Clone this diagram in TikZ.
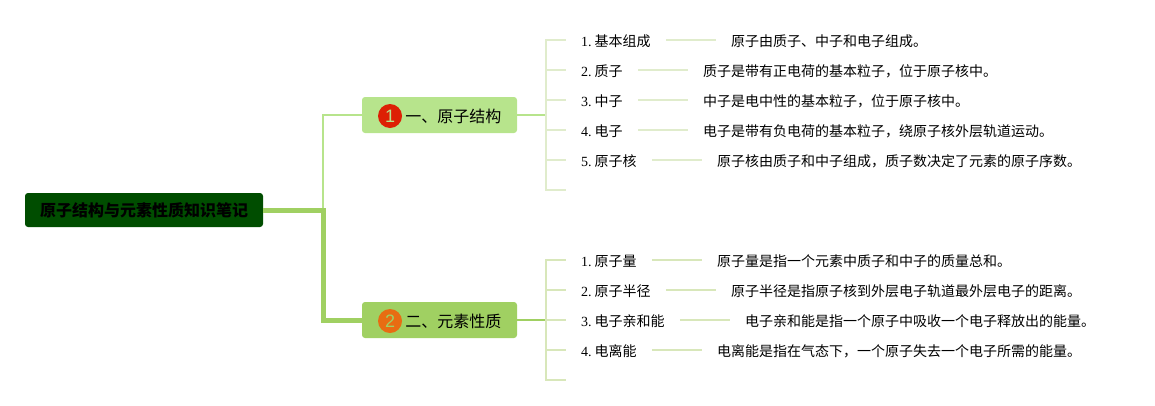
\documentclass[tikz,border=0pt]{standalone}
\usepackage{fontspec}
\setmainfont{Noto Sans CJK SC}
\newfontfamily\numfont{Liberation Serif}
\newfontfamily\badgefont{Liberation Sans}
\usetikzlibrary{positioning}
\definecolor{rootgreen}{HTML}{004D00}
\definecolor{topicone}{HTML}{B7E48C}
\definecolor{topictwo}{HTML}{A0D062}
\definecolor{stubone}{HTML}{E0ECCC}
\definecolor{stubtwo}{HTML}{D8E7BA}
\definecolor{badgered}{HTML}{DD2005}
\definecolor{badgeorange}{HTML}{E86C12}
\newcommand{\leaftext}[2]{{\numfont #1.}\hspace{3pt}#2}

\begin{document}
\begin{tikzpicture}[
        x=1pt,y=-1pt,
        rootbox/.style={fill=rootgreen,rounded corners=3pt,minimum width=238pt,minimum height=34pt,inner sep=0pt,font=\fontsize{16}{18}\selectfont\bfseries},
        topicbox/.style={rounded corners=3pt,minimum width=155pt,minimum height=36pt,inner sep=0pt},
        topictext/.style={inner sep=0pt,font=\fontsize{16}{18}\selectfont},
        badge/.style={circle,minimum size=24pt,inner sep=0pt,font=\fontsize{18}{20}\selectfont\badgefont},
        leaf/.style={inner sep=0pt,anchor=west,text height=12pt,text depth=0pt,font=\fontsize{14}{16}\selectfont},
        note/.style={leaf,right=80pt of #1},
        leafline/.style={draw=stubone,line width=2pt,shorten <=15pt,shorten >=15pt}]

    \useasboundingbox (0,0) rectangle (1155,405);

    \node[rootbox] (root) at (144,210) {原子结构与元素性质知识笔记};
    \node[topicbox,fill=topicone] (topicA) at (439.5,115) {};
    \node[topicbox,fill=topictwo] (topicB) at (439.5,320) {};
    \node[badge,fill=badgered,text=topicone] (badgeA) at (390,116) {1};
    \node[badge,fill=badgeorange,text=topictwo] (badgeB) at (390,321) {2};
    \node[topictext,right=3pt of badgeA] (titleA) {一、原子结构};
    \node[topictext,right=3pt of badgeB] (titleB) {二、元素性质};

    % first branch
    \node[leaf] (a1) at (581,40) {\leaftext{1}{基本组成}};
    \node[leaf] (a2) at (581,70) {\leaftext{2}{质子}};
    \node[leaf] (a3) at (581,100) {\leaftext{3}{中子}};
    \node[leaf] (a4) at (581,130) {\leaftext{4}{电子}};
    \node[leaf] (a5) at (581,160) {\leaftext{5}{原子核}};
    \node[note=a1] (na1) {原子由质子、中子和电子组成。};
    \node[note=a2] (na2) {质子是带有正电荷的基本粒子，位于原子核中。};
    \node[note=a3] (na3) {中子是电中性的基本粒子，位于原子核中。};
    \node[note=a4] (na4) {电子是带有负电荷的基本粒子，绕原子核外层轨道运动。};
    \node[note=a5] (na5) {原子核由质子和中子组成，质子数决定了元素的原子序数。};

    % second branch
    \node[leaf] (b1) at (581,260) {\leaftext{1}{原子量}};
    \node[leaf] (b2) at (581,290) {\leaftext{2}{原子半径}};
    \node[leaf] (b3) at (581,320) {\leaftext{3}{电子亲和能}};
    \node[leaf] (b4) at (581,350) {\leaftext{4}{电离能}};
    \node[note=b1] (nb1) {原子量是指一个元素中质子和中子的质量总和。};
    \node[note=b2] (nb2) {原子半径是指原子核到外层电子轨道最外层电子的距离。};
    \node[note=b3] (nb3) {电子亲和能是指一个原子中吸收一个电子释放出的能量。};
    \node[note=b4] (nb4) {电离能是指在气态下，一个原子失去一个电子所需的能量。};

    \coordinate (fork) at (323,210);
    \coordinate (spineA) at (546,115);
    \coordinate (spineB) at (546,320);
    \coordinate (endA) at (566,190);
    \coordinate (endB) at (566,380);

    \draw[topicone,line width=2pt] (root.east) -- (fork) |- (topicA.west);
    \draw[topictwo,line width=5pt] (root.east) -- (fork) |- (topicB.west);
    \draw[topicone,line width=2pt] (topicA.east) -- (spineA);
    \draw[topictwo,line width=2pt] (topicB.east) -- (spineB);

    \draw[stubone,line width=2pt] (spineA) |- ([xshift=-15pt]a1.west);
    \draw[stubone,line width=2pt] (spineA) |- ([xshift=-15pt]a2.west);
    \draw[stubone,line width=2pt] (spineA) |- ([xshift=-15pt]a3.west);
    \draw[stubone,line width=2pt] (spineA) |- ([xshift=-15pt]a4.west);
    \draw[stubone,line width=2pt] (spineA) |- ([xshift=-15pt]a5.west);
    \draw[stubone,line width=2pt] (spineA) |- (endA);

    \draw[stubtwo,line width=2pt] (spineB) |- ([xshift=-15pt]b1.west);
    \draw[stubtwo,line width=2pt] (spineB) |- ([xshift=-15pt]b2.west);
    \draw[stubtwo,line width=2pt] (spineB) -- ([xshift=-15pt]b3.west);
    \draw[stubtwo,line width=2pt] (spineB) |- ([xshift=-15pt]b4.west);
    \draw[stubtwo,line width=2pt] (spineB) |- (endB);

    \draw[leafline] (a1) -- (na1);
    \draw[leafline] (a2) -- (na2);
    \draw[leafline] (a3) -- (na3);
    \draw[leafline] (a4) -- (na4);
    \draw[leafline] (a5) -- (na5);
    \draw[leafline,stubtwo] (b1) -- (nb1);
    \draw[leafline,stubtwo] (b2) -- (nb2);
    \draw[leafline,stubtwo] (b3) -- (nb3);
    \draw[leafline,stubtwo] (b4) -- (nb4);
\end{tikzpicture}
\end{document}
